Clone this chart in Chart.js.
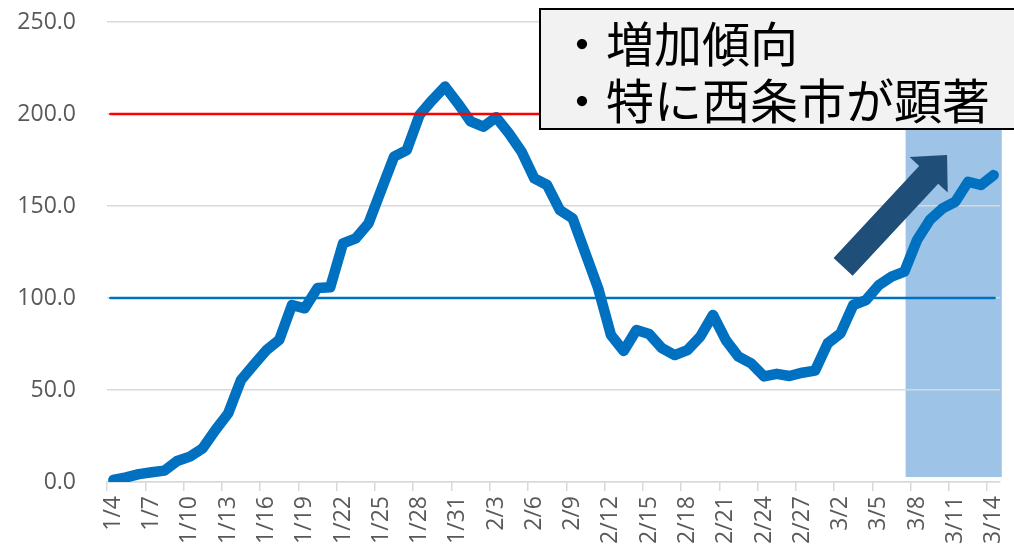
<!DOCTYPE html>
<html lang="ja">
<head>
<meta charset="utf-8">
<script src="https://cdn.jsdelivr.net/npm/chart.js@4"></script>
<style>
  html, body { margin: 0; padding: 0; background: #fff; overflow: hidden; }
  #wrap { width: 1014px; height: 548px; position: relative; }
</style>
</head>
<body>
<div id="wrap"><canvas id="chart" width="1014" height="548"></canvas></div>
<script>
// dates 1/4 .. 3/14
const labels = [
  '1/4','1/5','1/6','1/7','1/8','1/9','1/10','1/11','1/12','1/13','1/14','1/15','1/16','1/17','1/18','1/19',
  '1/20','1/21','1/22','1/23','1/24','1/25','1/26','1/27','1/28','1/29','1/30','1/31',
  '2/1','2/2','2/3','2/4','2/5','2/6','2/7','2/8','2/9','2/10','2/11','2/12','2/13','2/14','2/15','2/16',
  '2/17','2/18','2/19','2/20','2/21','2/22','2/23','2/24','2/25','2/26','2/27','2/28',
  '3/1','3/2','3/3','3/4','3/5','3/6','3/7','3/8','3/9','3/10','3/11','3/12','3/13','3/14'
];

const values = [
  1.1, 2.5, 4.3, 5.3, 6.2, 11.4, 13.8, 18.3, 28.3, 37.3, 55.4, 63.6, 71.7, 77.2, 96.2, 94.4,
  105.4, 105.8, 129.7, 132.4, 140.6, 158.7, 176.8, 180.4, 199.5, 207.6, 214.9, 205.8,
  196.0, 193.1, 198.2, 189.5, 179.5, 165.0, 161.4, 147.8, 143.3, 124.3, 105.3, 79.9, 71.2, 82.6, 80.4, 72.7,
  69.0, 71.7, 79.0, 90.8, 77.2, 68.1, 64.5, 57.4, 58.8, 57.6, 59.4, 60.5,
  75.4, 80.8, 96.2, 98.9, 107.0, 111.6, 114.3, 131.5, 142.4, 148.7, 152.3, 163.2, 161.4, 166.8
];

const yTicks = [0, 50, 100, 150, 200, 250];
const redLine = 200;
const blueLine = 100;

// highlight band (category index range, value range) and trend arrow
const band = { from: 62.1, to: 69.64, top: 191.3, bottom: 2.7 };
const arrow = { x0: 57.2, y0: 116.9, x1: 65.35, y1: 177.7 };
const noteLines = ['・増加傾向', '・特に西条市が顕著'];

const extras = {
  id: 'extras',
  beforeDraw(chart) {
    const { ctx, scales: { x, y } } = chart;
    ctx.save();
    ctx.fillStyle = 'rgb(157,195,230)';
    const l = x.getPixelForValue(band.from), r = x.getPixelForValue(band.to);
    const t = y.getPixelForValue(band.top), b = y.getPixelForValue(band.bottom);
    ctx.fillRect(l, t, r - l, b - t);
    ctx.restore();
  },
  afterDatasetsDraw(chart) {
    const { ctx, scales: { x, y } } = chart;
    const x0 = x.getPixelForValue(0), x1 = x.getPixelForValue(labels.length - 1);
    ctx.save();
    ctx.lineCap = 'round';
    ctx.strokeStyle = '#FF0000';
    ctx.lineWidth = 2.5;
    ctx.beginPath();
    ctx.moveTo(x0 - 3, y.getPixelForValue(redLine));
    ctx.lineTo(x1 + 1, y.getPixelForValue(redLine));
    ctx.stroke();
    ctx.strokeStyle = '#0070C0';
    ctx.lineWidth = 2.5;
    ctx.beginPath();
    ctx.moveTo(x0 - 3, y.getPixelForValue(blueLine));
    ctx.lineTo(x1 + 1, y.getPixelForValue(blueLine));
    ctx.stroke();

    // arrow
    const ax = x.getPixelForValue(arrow.x0), ay = y.getPixelForValue(arrow.y0);
    const bx = x.getPixelForValue(arrow.x1), by = y.getPixelForValue(arrow.y1);
    const len = Math.hypot(bx - ax, by - ay);
    const dx = (bx - ax) / len, dy = (by - ay) / len;
    const nx = -dy, ny = dx;
    const hl = 27, hw = 26, sw = 13;
    const hx = bx - dx * hl, hy = by - dy * hl;
    ctx.fillStyle = '#1F4E79';
    ctx.beginPath();
    ctx.moveTo(ax + nx * sw, ay + ny * sw);
    ctx.lineTo(hx + nx * sw, hy + ny * sw);
    ctx.lineTo(hx + nx * hw, hy + ny * hw);
    ctx.lineTo(bx, by);
    ctx.lineTo(hx - nx * hw, hy - ny * hw);
    ctx.lineTo(hx - nx * sw, hy - ny * sw);
    ctx.lineTo(ax - nx * sw, ay - ny * sw);
    ctx.closePath();
    ctx.fill();
    ctx.restore();
  },
  afterDraw(chart) {
    const { ctx } = chart;
    ctx.save();
    ctx.fillStyle = '#F2F2F2';
    ctx.fillRect(540, 9, 480, 120);
    ctx.strokeStyle = '#000';
    ctx.lineWidth = 2;
    ctx.strokeRect(540, 9, 480, 120);
    ctx.fillStyle = '#000';
    ctx.font = '48px "Noto Sans CJK JP"';
    ctx.textBaseline = 'middle';
    ctx.fillText(noteLines[0], 558, 44);
    ctx.fillText(noteLines[1], 558, 101);
    ctx.restore();
  }
};

new Chart(document.getElementById('chart'), {
  type: 'line',
  data: {
    labels: labels,
    datasets: [{
      data: values,
      borderColor: '#0070C0',
      borderWidth: 10.5,
      borderJoinStyle: 'round',
      borderCapStyle: 'round',
      pointRadius: 0,
      tension: 0,
      fill: false
    }]
  },
  options: {
    responsive: false,
    animation: false,
    layout: { padding: { top: 22, right: 14, left: 0, bottom: 0 } },
    plugins: { legend: { display: false }, tooltip: { enabled: false } },
    scales: {
      x: {
        offset: true,
        afterFit: s => {
          s.height = 66;
          s.paddingLeft = 0; s.paddingRight = 0; s.paddingTop = 0; s.paddingBottom = 0;
        },
        grid: {
          offset: true,
          drawOnChartArea: false,
          tickLength: 9,
          lineWidth: 1.5,
          tickColor: c => (c.index % 3 === 0 ? '#D9D9D9' : 'rgba(0,0,0,0)'),
          color: c => (c.index % 3 === 0 ? '#D9D9D9' : 'rgba(0,0,0,0)')
        },
        border: { color: '#D9D9D9', width: 1.5 },
        ticks: {
          autoSkip: false,
          minRotation: 90,
          maxRotation: 90,
          padding: 5,
          color: '#595959',
          font: { family: '"Open Sans"', size: 23 },
          callback: function (v, i) { return i % 3 === 0 ? labels[i] : ''; }
        }
      },
      y: {
        min: 0,
        max: 250,
        afterFit: s => {
          s.width = 107;
          s.paddingLeft = 0; s.paddingRight = 0; s.paddingTop = 0; s.paddingBottom = 0;
        },
        afterBuildTicks: s => { s.ticks = yTicks.map(v => ({ value: v })); },
        grid: { color: '#D9D9D9', lineWidth: 1.5, drawTicks: false },
        border: { display: false },
        ticks: {
          padding: 31,
          color: '#595959',
          font: { family: '"Open Sans"', size: 23 },
          callback: v => v.toFixed(1)
        }
      }
    }
  },
  plugins: [extras]
});
</script>
</body>
</html>
